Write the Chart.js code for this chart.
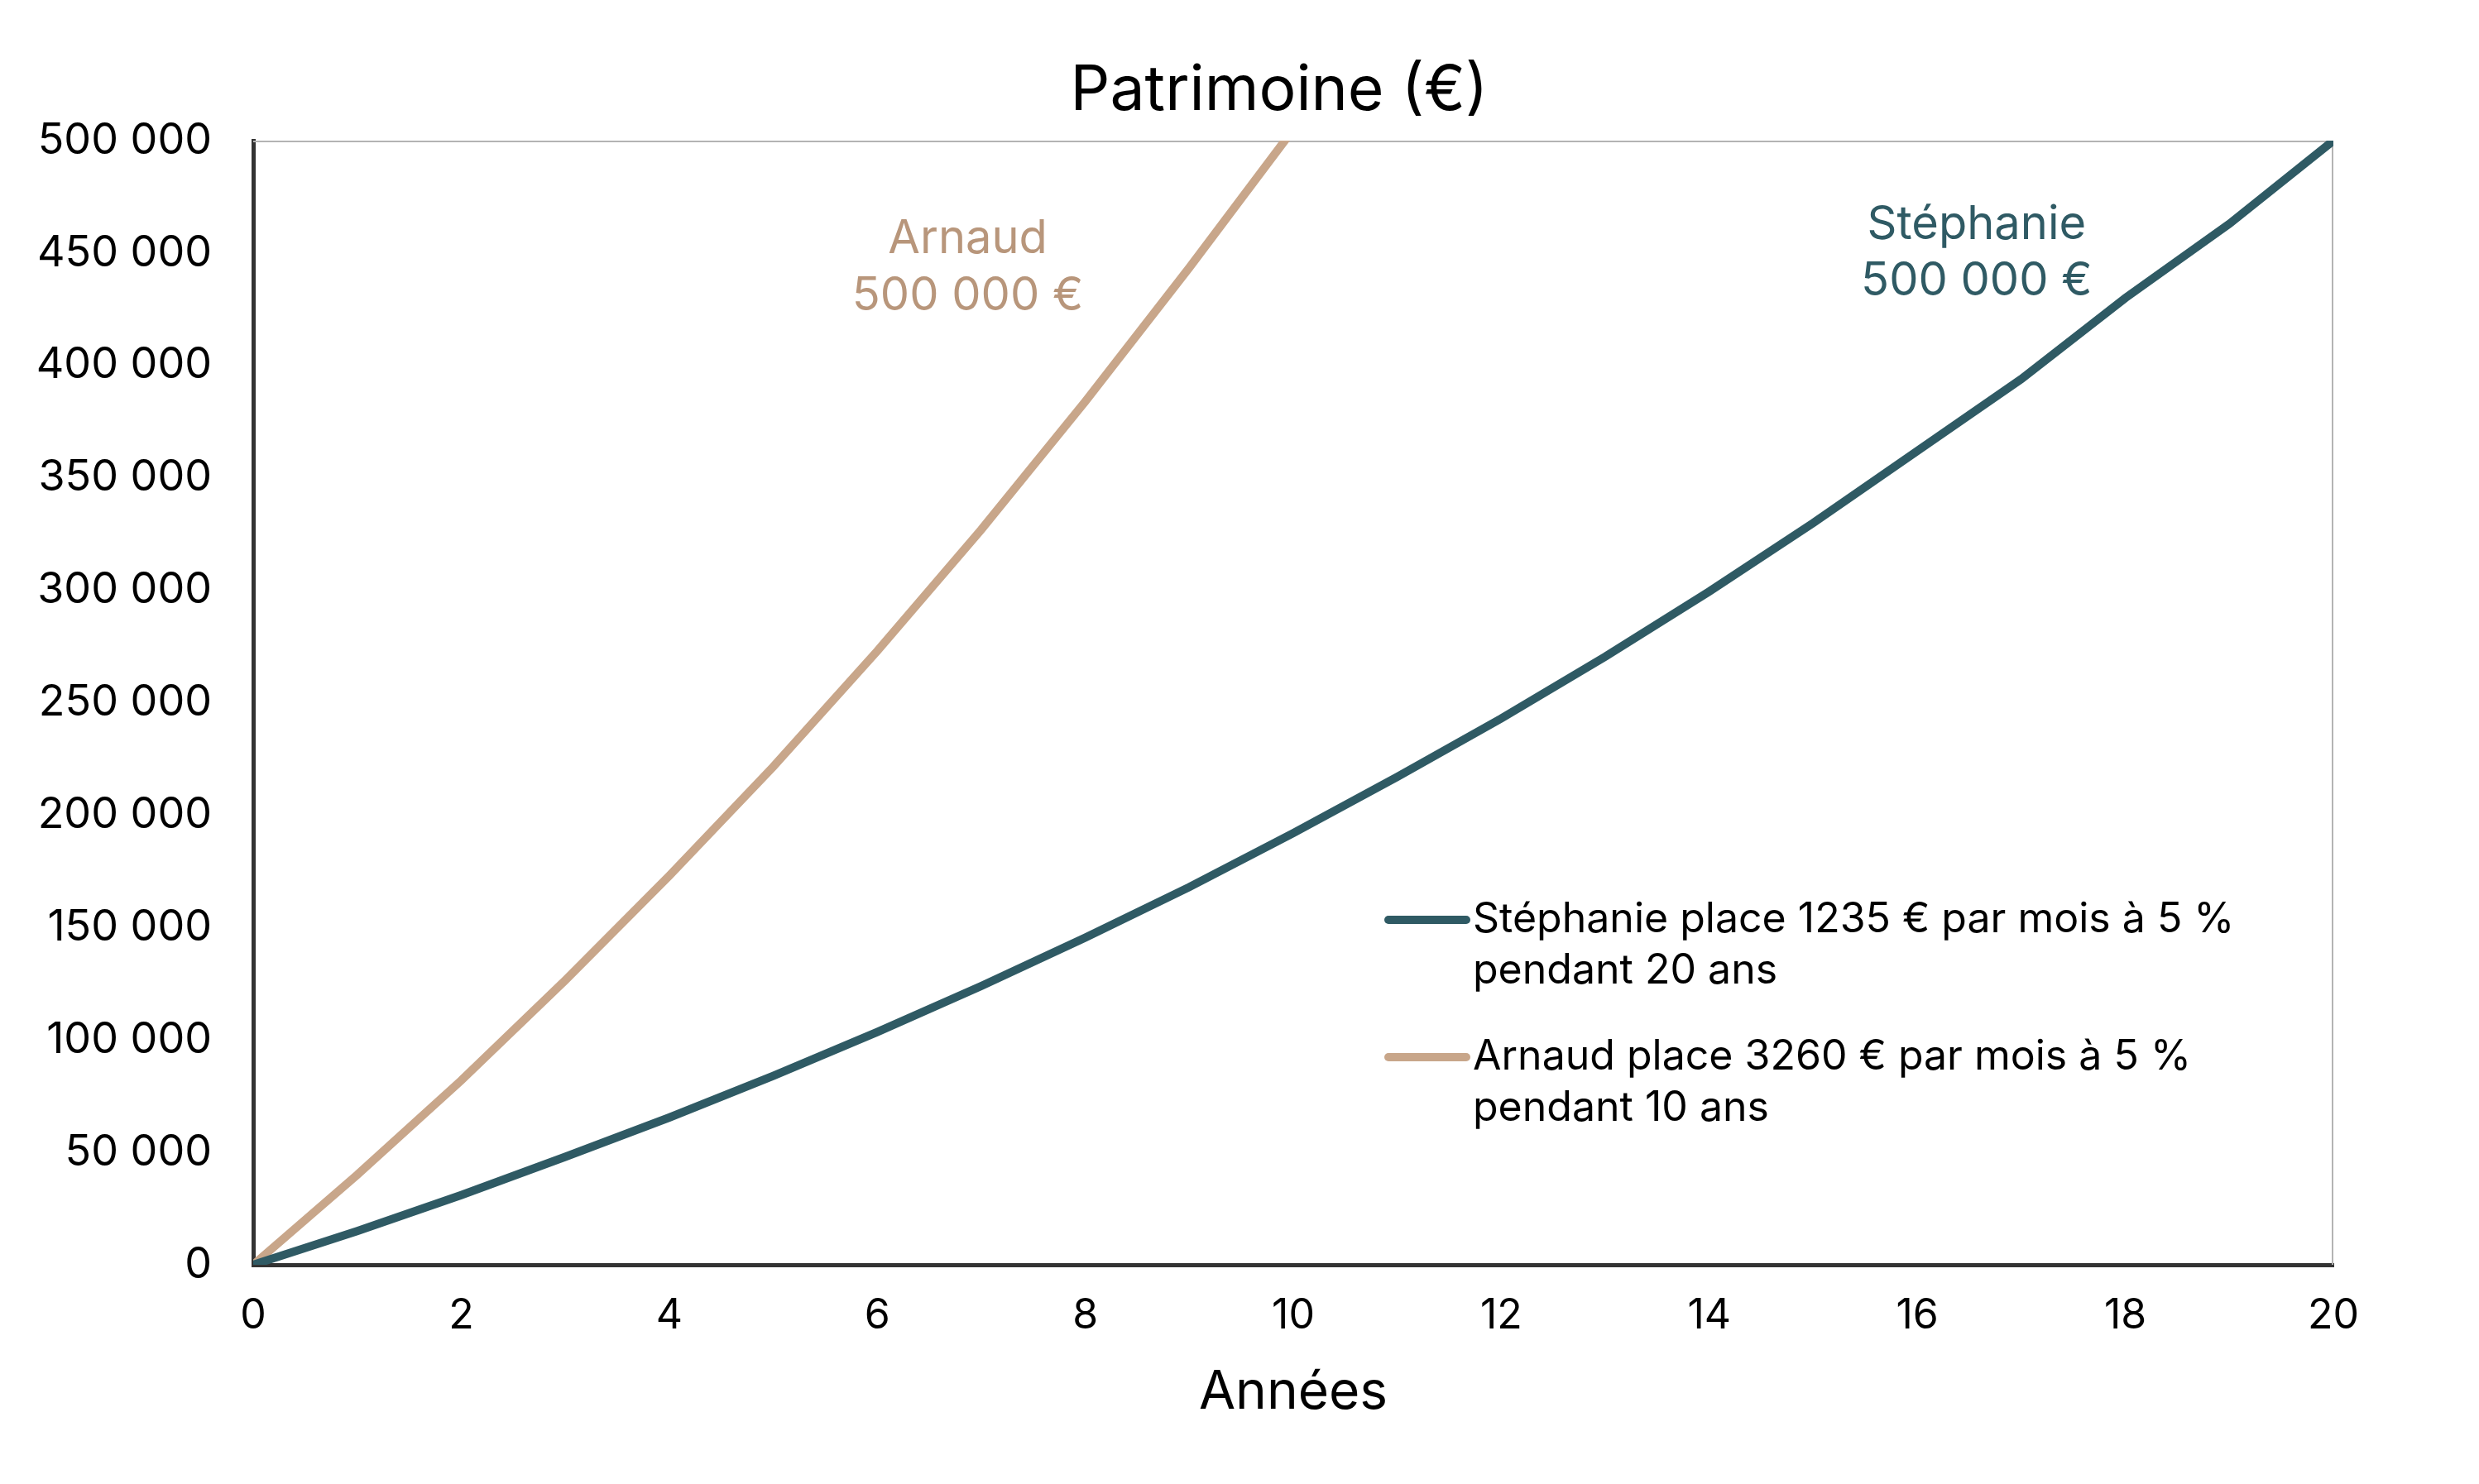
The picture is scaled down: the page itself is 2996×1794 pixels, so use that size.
<!DOCTYPE html>
<html><head><meta charset="utf-8">
<script src="https://cdn.jsdelivr.net/npm/chart.js@4/dist/chart.umd.min.js"></script>
<style>html,body{margin:0;padding:0;background:#fff;}</style>
</head><body>
<canvas id="c" width="2996" height="1794"></canvas>
<script>
// ---- data ----
const stephanieYears = [0,1,2,3,4,5,6,7,8,9,10,11,12,13,14,15,16,17,18,19,20];
const stephanieValues = [0,15000,31000,48000,65500,84000,103500,124000,145500,168000,192000,217000,243000,270500,299500,330000,362000,394000,430000,463000,500000];
const arnaudYears = [0,1,2,3,4,5,6,7,8,9,10];
const arnaudValues = [0,40000,82000,126500,173000,221500,273000,327000,384000,443500,505000];
const legendLabels = [
  ["Stéphanie place 1235 € par mois à 5 %", "pendant 20 ans"],
  ["Arnaud place 3260 € par mois à 5 %", "pendant 10 ans"]
];
const seriesNames = ["Stéphanie", "Arnaud"];
const finalAmounts = ["500 000 €", "500 000 €"];
const chartTitle = "Patrimoine (€)";
const xTitle = "Années";

const TEAL = '#2f5a64';
const TAN = '#c8a68a';
const TAN_TEXT = '#b8967b';
const FONT = 'Inter';

function fmt(v){ return String(v).replace(/\B(?=(\d{3})+(?!\d))/g, ' '); }

const annotations = {
  id: 'annotations',
  afterDatasetsDraw(chart) {
    const {ctx, scales:{x, y}} = chart;
    const items = [
      {name: seriesNames[1], amount: finalAmounts[1], x: 6.87, y1: 456200, y2: 430800, color: TAN_TEXT},
      {name: seriesNames[0], amount: finalAmounts[0], x: 16.57, y1: 462400, y2: 437400, color: TEAL}
    ];
    ctx.save();
    ctx.textAlign = 'center';
    ctx.textBaseline = 'middle';
    ctx.font = `56px ${FONT}`;
    for (const it of items) {
      ctx.fillStyle = it.color;
      ctx.fillText(it.name, x.getPixelForValue(it.x), y.getPixelForValue(it.y1));
      ctx.fillText(it.amount, x.getPixelForValue(it.x), y.getPixelForValue(it.y2));
    }
    ctx.restore();
  }
};

const frame = {
  id: 'frame',
  beforeDatasetsDraw(chart) {
    const {ctx, chartArea:a} = chart;
    ctx.save();
    ctx.strokeStyle = '#b3b3b3';
    ctx.lineWidth = 2;
    ctx.beginPath();
    ctx.moveTo(a.left, a.top + 1);
    ctx.lineTo(a.right - 1, a.top + 1);
    ctx.lineTo(a.right - 1, a.bottom);
    ctx.stroke();
    ctx.restore();
  }
};

const titleShift = {
  id: 'titleShift',
  afterLayout(chart) {
    const t = chart.titleBlock;
    if (t) { t.left = chart.chartArea.left - 34; t.right = chart.chartArea.right; }
  }
};

const customLegend = {
  id: 'customLegend',
  afterDraw(chart) {
    const {ctx, chartArea:a} = chart;
    const x0 = a.left + 1372, x1 = a.left + 1466, tx = a.left + 1474;
    const rows = [a.top + 942, a.top + 1108];
    const lineGap = 62;
    ctx.save();
    chart.data.datasets.forEach((ds, i) => {
      const yy = rows[i];
      ctx.strokeStyle = ds.borderColor;
      ctx.lineWidth = 10;
      ctx.lineCap = 'round';
      ctx.beginPath();
      ctx.moveTo(x0, yy); ctx.lineTo(x1, yy); ctx.stroke();
      ctx.fillStyle = '#000';
      ctx.font = `50px ${FONT}`;
      ctx.textAlign = 'left';
      ctx.textBaseline = 'middle';
      legendLabels[i].forEach((t, k) => ctx.fillText(t, tx, yy + k * lineGap));
    });
    ctx.restore();
  }
};

new Chart(document.getElementById('c'), {
  type: 'line',
  data: {
    datasets: [
      {label: seriesNames[0], data: stephanieYears.map((yr, i) => ({x: yr, y: stephanieValues[i]})),
       borderColor: TEAL, borderWidth: 10, pointRadius: 0, tension: 0, fill: false},
      {label: seriesNames[1], data: arnaudYears.map((yr, i) => ({x: yr, y: arnaudValues[i]})),
       borderColor: TAN, borderWidth: 10, pointRadius: 0, tension: 0, fill: false}
    ]
  },
  options: {
    responsive: false, devicePixelRatio: 1, animation: false,
    layout: {padding: {left: 0, right: 176, top: 0, bottom: 0}},
    plugins: {
      legend: {display: false},
      tooltip: {enabled: false},
      title: {display: true, text: chartTitle, color: '#000',
        font: {family: FONT, size: 75, weight: 'normal'}, padding: {top: 65, bottom: 15}}
    },
    scales: {
      x: {type: 'linear', min: 0, max: 20,
        ticks: {stepSize: 2, color: '#000', font: {family: FONT, size: 50}, padding: 32},
        grid: {display: false, drawTicks: false},
        border: {display: true, color: '#333', width: 5},
        title: {display: true, text: xTitle, color: '#000', font: {family: FONT, size: 64}, padding: {top: 0, bottom: 72}},
        afterFit: s => { s.height = 265; }
      },
      y: {min: 0, max: 500000,
        ticks: {stepSize: 50000, color: '#000', font: {family: FONT, size: 52}, padding: 50, callback: v => fmt(v)},
        grid: {display: false, drawTicks: false},
        border: {display: true, color: '#333', width: 5},
        afterFit: s => { s.width = 306; }
      }
    }
  },
  plugins: [frame, titleShift, annotations, customLegend]
});
</script>
</body></html>
